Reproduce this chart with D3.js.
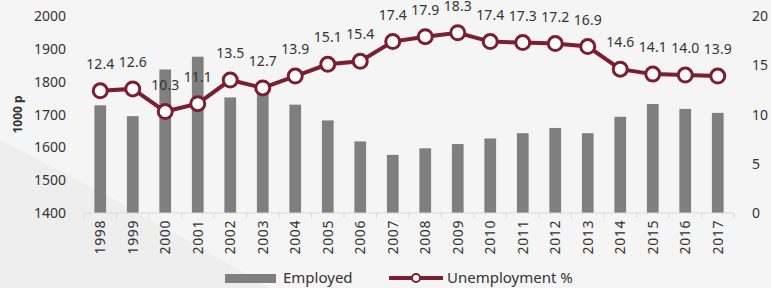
<!DOCTYPE html>
<html>
<head>
	<meta charset="utf-8">
	<script src="https://cdn.jsdelivr.net/npm/d3@7"></script>
</head>
<style type="text/css">
	body { margin:0; background-color:#f4f4f4; }
	text { font-family:"Noto Sans", sans-serif; fill:#333; }
</style>
<body>
</body>
</html>
<script type="text/javascript">
	var width = 771;
	var height = 288;
	var margin = {left:84, right:37, top:16, bottom:75};

	var years = ["1998","1999","2000","2001","2002","2003","2004","2005","2006","2007",
		"2008","2009","2010","2011","2012","2013","2014","2015","2016","2017"];
	var employed = [1728,1695,1837,1876,1752,1775,1730,1682,1618,1577,
		1597,1610,1627,1643,1659,1643,1693,1732,1717,1705];
	var unemployment = [12.4,12.6,10.3,11.1,13.5,12.7,13.9,15.1,15.4,17.4,
		17.9,18.3,17.4,17.3,17.2,16.9,14.6,14.1,14.0,13.9];
	var leftTicks = [1400,1500,1600,1700,1800,1900,2000];
	var rightTicks = [0,5,10,15,20];

	var w = width - margin.left - margin.right;
	var h = height - margin.top - margin.bottom;
	var maroon = "#7b1e32";

	var svg = d3.select("body").append("svg").attr("width", width).attr("height", height);

	// soft background shading
	svg.append("rect").attr("width", width).attr("height", height).attr("fill", "#f5f5f5");
	svg.append("path").attr("d", "M0,140 Q120,200 270,288 L0,288 Z").attr("fill", "#eeeeee");

	var x = d3.scaleBand().domain(years).range([0, w]).paddingInner(0.64).paddingOuter(0.32);
	var xp = d3.scalePoint().domain(years).range([0, w]).padding(0.5);
	var y = d3.scaleLinear().domain([1400, 2000]).range([h, 0]);
	var y2 = d3.scaleLinear().domain([0, 20]).range([h, 0]);

	var g = svg.append("g").attr("transform", "translate(" + margin.left + "," + margin.top + ")");

	g.selectAll(".bar").data(employed).enter().append("rect")
		.attr("class", "bar")
		.attr("x", function(d, i){return x(years[i])})
		.attr("width", x.bandwidth())
		.attr("y", function(d){return y(d)})
		.attr("height", function(d){return h - y(d)})
		.attr("fill", "#7f7f7f");

	// x axis
	var xa = g.append("g").attr("transform", "translate(0," + h + ")");
	xa.append("line").attr("x1", 0).attr("x2", w).attr("stroke", "#d9d9d9").attr("stroke-width", 1);
	var step = w / years.length;
	xa.selectAll(".tk").data(d3.range(years.length + 1)).enter().append("line")
		.attr("x1", function(d){return d * step}).attr("x2", function(d){return d * step})
		.attr("y1", 0).attr("y2", 5).attr("stroke", "#d9d9d9");
	xa.selectAll(".yl").data(years).enter().append("text")
		.attr("transform", function(d){return "translate(" + (xp(d) + 5) + ",7) rotate(-90)"})
		.attr("text-anchor", "end")
		.style("font-size", "14px").style("letter-spacing", "0.6px")
		.text(function(d){return d});

	// left axis labels
	g.selectAll(".ll").data(leftTicks).enter().append("text")
		.attr("x", -18).attr("y", function(d){return y(d) + 5})
		.attr("text-anchor", "end").style("font-size", "14px")
		.text(function(d){return d});

	// right axis labels
	g.selectAll(".rl").data(rightTicks).enter().append("text")
		.attr("x", w + 18).attr("y", function(d){return y2(d) + 5})
		.attr("text-anchor", "start").style("font-size", "14px")
		.text(function(d){return d});

	svg.append("text").attr("transform", "translate(22," + (margin.top + h / 2) + ") rotate(-90)")
		.attr("text-anchor", "middle").style("font-size", "12px").style("font-weight", "bold")
		.text("1000 p");

	// unemployment line
	var line = d3.line().x(function(d, i){return xp(years[i])}).y(function(d){return y2(d)});
	g.append("path").datum(unemployment).attr("d", line)
		.attr("fill", "none").attr("stroke", maroon).attr("stroke-width", 4);
	g.selectAll(".pt").data(unemployment).enter().append("circle")
		.attr("cx", function(d, i){return xp(years[i])})
		.attr("cy", function(d){return y2(d)})
		.attr("r", 7).attr("fill", "#fff").attr("stroke", maroon).attr("stroke-width", 3);
	g.selectAll(".vl").data(unemployment).enter().append("text")
		.attr("x", function(d, i){return xp(years[i])})
		.attr("y", function(d){return y2(d) - 22})
		.attr("text-anchor", "middle").style("font-size", "14px")
		.text(function(d){return d.toFixed(1)});

	// legend
	var lg = svg.append("g").attr("transform", "translate(0,278)");
	lg.append("rect").attr("x", 225).attr("y", -4).attr("width", 51).attr("height", 9).attr("fill", "#7f7f7f");
	lg.append("text").attr("x", 283).attr("y", 5).style("font-size", "15px").text("Employed");
	lg.append("line").attr("x1", 389).attr("x2", 443).attr("y1", 0).attr("y2", 0)
		.attr("stroke", maroon).attr("stroke-width", 4);
	lg.append("circle").attr("cx", 416).attr("cy", 0).attr("r", 4).attr("fill", "#fff")
		.attr("stroke", maroon).attr("stroke-width", 2);
	lg.append("text").attr("x", 447).attr("y", 5).style("font-size", "15px").text("Unemployment %");
</script>
